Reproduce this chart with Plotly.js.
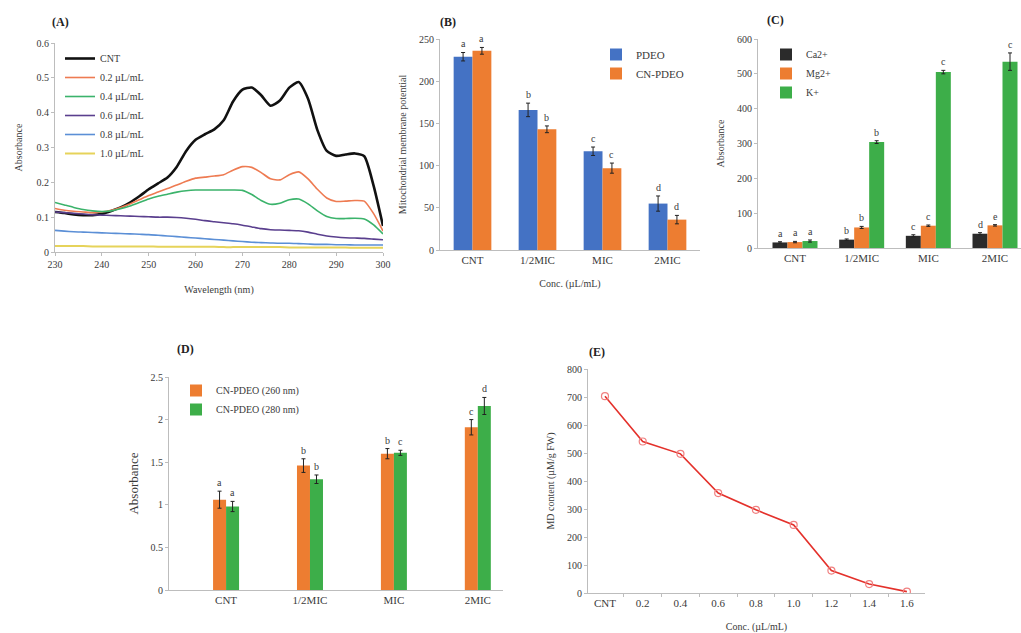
<!DOCTYPE html>
<html><head><meta charset="utf-8">
<script src="https://cdn.plot.ly/plotly-3.0.1.min.js"></script>
<style>html,body{margin:0;padding:0;background:#fff}#chart{width:1021px;height:633px}</style>
</head><body><div id="chart"></div><script>
// ---------- Panel A data: UV absorbance spectra ----------
const wavelength = [230,232,234,236,238,240,242,244,246,248,250,252,254,256,258,260,262,264,266,268,270,272,274,276,278,280,282,284,286,288,290,292,294,296,298,300];
const absCNT  = [0.115,0.112,0.108,0.106,0.106,0.110,0.118,0.128,0.142,0.160,0.180,0.197,0.214,0.245,0.290,0.322,0.338,0.352,0.378,0.432,0.466,0.472,0.450,0.420,0.435,0.472,0.488,0.440,0.350,0.290,0.276,0.280,0.283,0.275,0.190,0.075];
const abs02   = [0.125,0.120,0.117,0.115,0.113,0.115,0.120,0.128,0.138,0.150,0.162,0.172,0.182,0.192,0.203,0.212,0.215,0.218,0.222,0.235,0.245,0.243,0.228,0.210,0.207,0.222,0.230,0.210,0.180,0.155,0.145,0.146,0.148,0.146,0.110,0.060];
const abs04   = [0.142,0.135,0.128,0.122,0.118,0.116,0.118,0.124,0.132,0.142,0.152,0.160,0.166,0.172,0.176,0.178,0.178,0.178,0.178,0.178,0.177,0.165,0.148,0.137,0.140,0.150,0.152,0.138,0.118,0.102,0.096,0.096,0.097,0.095,0.078,0.052];
const abs06   = [0.115,0.113,0.111,0.109,0.107,0.106,0.105,0.104,0.103,0.102,0.101,0.100,0.100,0.099,0.097,0.094,0.090,0.087,0.084,0.081,0.077,0.072,0.067,0.064,0.063,0.062,0.061,0.057,0.051,0.046,0.043,0.041,0.040,0.039,0.037,0.035];
const abs08   = [0.062,0.060,0.058,0.057,0.056,0.055,0.054,0.053,0.052,0.051,0.050,0.048,0.046,0.044,0.042,0.040,0.038,0.036,0.034,0.032,0.030,0.028,0.027,0.026,0.025,0.025,0.024,0.023,0.022,0.022,0.021,0.021,0.020,0.020,0.020,0.020];
const abs10   = [0.017,0.017,0.017,0.017,0.016,0.016,0.016,0.016,0.016,0.016,0.016,0.015,0.015,0.015,0.015,0.015,0.015,0.015,0.014,0.014,0.014,0.014,0.014,0.014,0.014,0.013,0.013,0.013,0.013,0.013,0.013,0.013,0.012,0.012,0.012,0.012];
const spectraNames = ["CNT","0.2 µL/mL","0.4 µL/mL","0.6 µL/mL","0.8 µL/mL","1.0 µL/mL"];

// ---------- Panel B data: mitochondrial membrane potential ----------
const concCategories = ["CNT","1/2MIC","MIC","2MIC"];
const mmpPDEO      = [229,166,117,55];
const mmpPDEOErr   = [5,8,5,9];
const mmpPDEOLet   = ["a","b","c","d"];
const mmpCNPDEO    = [236,143,97,36];
const mmpCNPDEOErr = [4,4,6,5];
const mmpCNPDEOLet = ["a","b","c","d"];

// ---------- Panel C data: ion leakage ----------
const ionCa     = [16,24,35,41];
const ionCaErr  = [2,2,3,3];
const ionCaLet  = ["a","b","c","d"];
const ionMg     = [17,59,64,65];
const ionMgErr  = [2,3,2,2];
const ionMgLet  = ["a","b","c","e"];
const ionK      = [20,304,505,535];
const ionKErr   = [3,4,5,25];
const ionKLet   = ["a","b","c","c"];

// ---------- Panel D data: nucleic acid / protein leakage ----------
const abs260     = [1.06,1.46,1.60,1.91];
const abs260Err  = [0.10,0.08,0.06,0.09];
const abs260Let  = ["a","b","b","c"];
const abs280     = [0.98,1.30,1.61,2.16];
const abs280Err  = [0.06,0.05,0.03,0.10];
const abs280Let  = ["a","b","c","d"];

// ---------- Panel E data: MD content ----------
const mdConc    = ["CNT","0.2","0.4","0.6","0.8","1.0","1.2","1.4","1.6"];
const mdContent = [703,541,497,357,297,243,80,32,5];

// ---------- layout helpers ----------
const W = 1021, H = 633;
const FONT = "Liberation Serif, Times New Roman, serif";
const TXT = "#3a3a3a";
const dx = (a,b) => [a/W, b/W];
const dy = (top,bottom) => [1-bottom/H, 1-top/H];

const traces = [];
const lineColors = ["#111111","#EE7B52","#3BB36B","#5A3F8E","#5B8FD6","#E6D35A"];
const lineWidths = [2.6,1.6,1.6,1.6,1.6,2];
[absCNT,abs02,abs04,abs06,abs08,abs10].forEach((ys,i)=>{
  traces.push({type:"scatter",mode:"lines",x:wavelength,y:ys,name:spectraNames[i],
    line:{color:lineColors[i],width:lineWidths[i],shape:"spline",smoothing:0.6},
    xaxis:"x",yaxis:"y",legend:"legend"});
});

const annotations = [];
function barSet(vals, errs, lets, name, color, xa, ya, lg, width, offset){
  traces.push({type:"bar",x:concCategories,y:vals,name:name,width:width,offset:offset,
    marker:{color:color},
    error_y:{type:"data",array:errs,visible:true,color:"#222",thickness:1,width:2},
    xaxis:xa,yaxis:ya,legend:lg});
  vals.forEach((v,i)=>{
    annotations.push({xref:xa,yref:ya,x:i+offset+width/2,y:v+errs[i],text:lets[i],showarrow:false,
      yanchor:"bottom",yshift:1,font:{family:FONT,size:10,color:TXT}});
  });
}
// B
barSet(mmpPDEO,mmpPDEOErr,mmpPDEOLet,"PDEO","#4472C4","x2","y2","legend2",0.29,-0.29);
barSet(mmpCNPDEO,mmpCNPDEOErr,mmpCNPDEOLet,"CN-PDEO","#ED7D31","x2","y2","legend2",0.29,0);
// C
barSet(ionCa,ionCaErr,ionCaLet,"Ca2+","#2B2B2B","x3","y3","legend3",0.225,-0.3375);
barSet(ionMg,ionMgErr,ionMgLet,"Mg2+","#ED7D31","x3","y3","legend3",0.225,-0.1125);
barSet(ionK,ionKErr,ionKLet,"K+","#3DAE49","x3","y3","legend3",0.225,0.1125);
// D
barSet(abs260,abs260Err,abs260Let,"CN-PDEO (260 nm)","#ED7D31","x4","y4","legend4",0.155,-0.155);
barSet(abs280,abs280Err,abs280Let,"CN-PDEO (280 nm)","#3DAE49","x4","y4","legend4",0.155,0);
// E
traces.push({type:"scatter",mode:"lines+markers",x:mdConc,y:mdContent,name:"MD content",showlegend:false,
  line:{color:"#E4312B",width:1.6},
  marker:{symbol:"circle-open",size:7,color:"#F08080",line:{width:1.2}},
  xaxis:"x5",yaxis:"y5"});

const axBase = {showline:true,linecolor:"#BDBDBD",linewidth:1,showgrid:false,zeroline:false,
  ticks:"outside",ticklen:3,tickcolor:"#BDBDBD",tickfont:{family:FONT,size:10,color:TXT},fixedrange:true};
const ttl = (t,size,standoff)=>({text:t,font:{family:FONT,size:size||10,color:TXT},standoff:standoff||6});

const legBase = {font:{family:FONT,size:10,color:TXT},bgcolor:"rgba(0,0,0,0)",xanchor:"left",yanchor:"top",
  tracegroupgap:0,itemclick:false,itemdoubleclick:false};

const panelLabels = [["(A)",60,22],["(B)",448,22],["(C)",775,20],["(D)",185,349],["(E)",597,352]];
panelLabels.forEach(p=>annotations.push({xref:"paper",yref:"paper",x:p[1]/W,y:1-p[2]/H,text:"<b>"+p[0]+"</b>",
  showarrow:false,xanchor:"center",yanchor:"middle",font:{family:FONT,size:12,color:"#222"}}));

const layout = {
  width:W,height:H,margin:{l:0,r:0,t:0,b:0},paper_bgcolor:"#fff",plot_bgcolor:"#fff",
  barmode:"overlay",showlegend:true,
  font:{family:FONT,color:TXT},
  xaxis:Object.assign({},axBase,{domain:dx(55,383),anchor:"y",range:[230,300],dtick:10,title:ttl("Wavelength (nm)",10,16)}),
  yaxis:Object.assign({},axBase,{domain:dy(43,252),anchor:"x",range:[0,0.6],dtick:0.1,title:ttl("Absorbance",10,12)}),
  xaxis2:Object.assign({},axBase,{domain:dx(440,700),anchor:"y2",type:"category",range:[-0.5,3.5],ticks:"",title:ttl("Conc. (µL/mL)",10,14),tickfont:{family:FONT,size:11,color:TXT}}),
  yaxis2:Object.assign({},axBase,{domain:dy(39,250),anchor:"x2",range:[0,250],dtick:50,title:ttl("Mitochondrial membrane potential",10,10)}),
  xaxis3:Object.assign({},axBase,{domain:dx(758,1021),anchor:"y3",type:"category",range:[-0.555,3.39],ticks:"",tickfont:{family:FONT,size:11,color:TXT}}),
  yaxis3:Object.assign({},axBase,{domain:dy(39,248),anchor:"x3",range:[0,600],dtick:100,title:ttl("Absorbance",10,10)}),
  xaxis4:Object.assign({},axBase,{domain:dx(169,503),anchor:"y4",type:"category",range:[-0.68,3.3],ticks:"",tickfont:{family:FONT,size:11,color:TXT}}),
  yaxis4:Object.assign({},axBase,{domain:dy(377,590),anchor:"x4",range:[0,2.5],dtick:0.5,title:ttl("Absorbance",13,8)}),
  xaxis5:Object.assign({},axBase,{domain:dx(588,925),anchor:"y5",type:"category",range:[-0.45,8.48],tickson:"boundaries",title:ttl("Conc. (µL/mL)",10,14),tickfont:{family:FONT,size:11,color:TXT}}),
  yaxis5:Object.assign({},axBase,{domain:dy(369,593),anchor:"x5",range:[0,800],dtick:100,title:ttl("MD content (µM/g FW)",10,10)}),
  legend:Object.assign({},legBase,{x:60/W,y:1-44/H}),
  legend2:Object.assign({},legBase,{x:596/W,y:1-40/H,font:{family:FONT,size:11,color:TXT}}),
  legend3:Object.assign({},legBase,{x:766/W,y:1-40/H}),
  legend4:Object.assign({},legBase,{x:176/W,y:1-376/H}),
  annotations:annotations
};

Plotly.newPlot("chart",traces,layout,{displayModeBar:false,staticPlot:true});
</script></body></html>
